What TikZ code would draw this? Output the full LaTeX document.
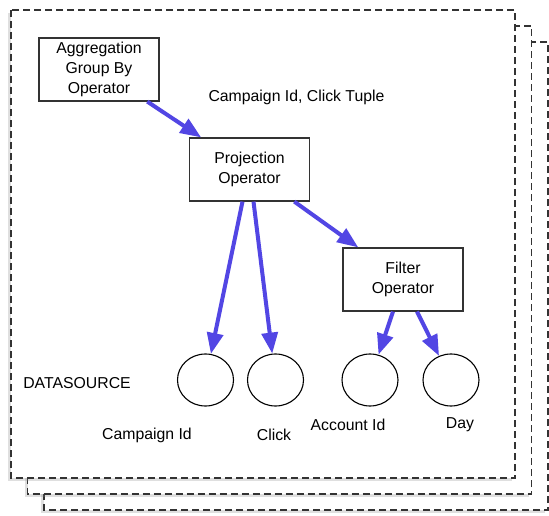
\documentclass[tikz,border=0pt]{standalone}
\usepackage{fontspec}
\setmainfont{Liberation Sans}
\usetikzlibrary{arrows.meta}
\usetikzlibrary{positioning}
\usetikzlibrary{shapes, shapes.geometric}
\usetikzlibrary{shadows}

\definecolor{flowblue}{RGB}{82,70,228}
\definecolor{pageline}{RGB}{51,51,51}

\begin{document}
\begin{tikzpicture}[x=1pt, y=-1pt,
        page/.style={draw=pageline, line width=1.5pt, dash pattern=on 7pt off 4pt, fill=white,
            drop shadow={shadow xshift=-3pt, shadow yshift=-3pt, opacity=0.25}},
        opbox/.style={draw=pageline, line width=1.2pt, fill=white, minimum width=120pt,
            minimum height=63pt, inner sep=0pt, align=center, font=\fontsize{15.8}{20}\selectfont},
        src/.style={draw, line width=1.1pt, ellipse, minimum width=56pt, minimum height=52pt, inner sep=0pt},
        lbl/.style={font=\fontsize{15.8}{19}\selectfont},
        flow/.style={draw=flowblue, line width=4pt, -{Triangle[length=21pt, width=16pt]}}]
        \useasboundingbox (0,0) rectangle (549,516);

        % Stacked pages
        \foreach \d in {2,1,0}
            \draw[page] (11+16.5*\d,10+16*\d) rectangle ++(504,468);

        % Operators
        \node[opbox] (agg) at (99,69.5) {Aggregation\\Group By\\Operator};
        \node[opbox] (proj) at (249.5,169.5) {Projection\\Operator};
        \node[opbox] (filt) at (403,279.5) {Filter\\Operator};

        % Data sources
        \node[src] (c1) at (205.5,380) {};
        \node[src] (c2) at (275.5,380) {};
        \node[src] (c3) at (370,380) {};
        \node[src] (c4) at (451,380) {};

        \node[lbl] (tuple) at (296.5,97) {Campaign Id, Click Tuple};
        \node[lbl] (ds) at (77,383) {DATASOURCE};
        \node[lbl] (l1) at (147,435) {Campaign Id};
        \node[lbl] (l2) at (274,435) {Click};
        \node[lbl] (l3) at (348,425) {Account Id};
        \node[lbl] (l4) at (460,425) {Day};

        % Flow
        \draw[flow] (agg) -- (proj);
        \draw[flow] (proj) -- (filt);
        \draw[flow] ([xshift=-7pt]proj.south) -- (c1);
        \draw[flow] ([xshift=4pt]proj.south) -- (c2);
        \draw[flow] ([xshift=-10pt]filt.south) -- (c3);
        \draw[flow] ([xshift=14pt]filt.south) -- (c4);
    \end{tikzpicture}
\end{document}
